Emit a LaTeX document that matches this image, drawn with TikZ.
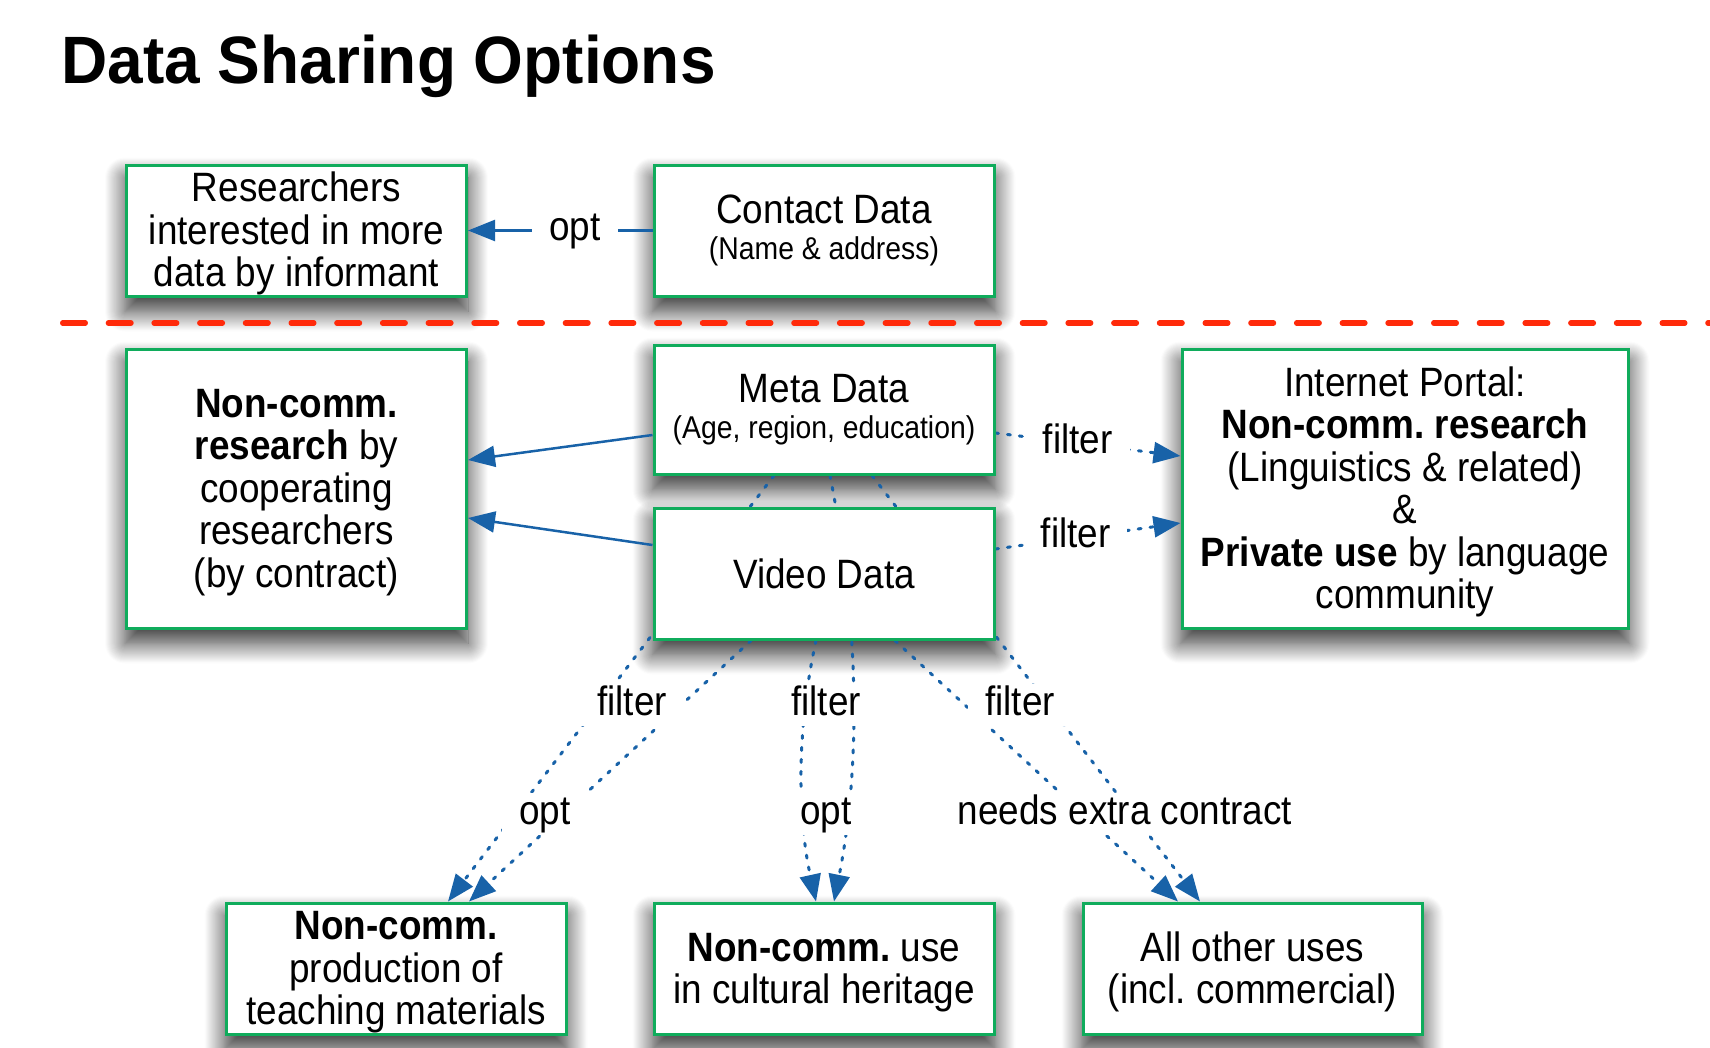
\documentclass[tikz,border=0pt]{standalone}
\usepackage{fontspec}
\setmainfont[FakeStretch=0.9]{Liberation Sans}
\newfontfamily\titlefont[FakeStretch=0.955]{Liberation Sans}
\usetikzlibrary{arrows.meta,shadows.blur}
\definecolor{boxgreen}{RGB}{16,172,92}
\definecolor{edgeblue}{RGB}{24,98,168}
\definecolor{dashred}{RGB}{255,42,10}
\pgfdeclarelayer{shadowlayer}
\pgfdeclarelayer{edgelayer}
\pgfsetlayers{shadowlayer,edgelayer,main}
\newcommand{\smallfnt}{\fontsize{31.5}{36}\selectfont}
\newcommand{\topstrut}{\rule{0pt}{36pt}}
\frenchspacing
\begin{document}
\frenchspacing
\begin{tikzpicture}[x=1pt,y=-1pt,
  box/.style={draw=boxgreen, line width=3pt, fill=white, rectangle, inner sep=0pt,
    minimum width=340pt, minimum height=131pt, align=center,
    font=\fontsize{41}{42.5}\selectfont\frenchspacing},
  tallbox/.style={box, minimum height=279pt},
  boxshadow/.style={blur shadow={shadow xshift=0pt, shadow yshift=-14pt,
    shadow blur radius=20pt, shadow opacity=80, shadow blur steps=20}},
  solidedge/.style={draw=edgeblue, line width=2.5pt, -{Triangle[length=27pt,width=21pt]}},
  dotedge/.style={solidedge, line width=3pt, dash pattern=on 3pt off 9pt, line cap=round},
  lbl/.style={fill=white, inner xsep=17pt, inner ysep=1pt, text height=30pt, text depth=10pt,
    font=\fontsize{41}{42.5}\selectfont}]
\useasboundingbox (0,0) rectangle (1710,1047);

\node[anchor=base west, font=\fontsize{67}{70}\titlefont\bfseries] (title) at (58,83) {Data Sharing Options};

% boxes
\node[box] (res) at (296.5,230.5) {\topstrut Researchers\\interested in more\\data by informant};
\node[box] (contact) at (824,230.5) {Contact Data\\[-6pt]{\smallfnt (Name \& address)}};
\node[tallbox] (ncr) at (296.5,488.5) {\topstrut\textbf{Non-comm.}\\\textbf{research} by\\cooperating\\researchers\\(by contract)};
\node[box, minimum height=129pt] (meta) at (824,409.5) {Meta Data\\[-6pt]{\smallfnt (Age, region, education)}};
\node[box] (video) at (824,573.5) {Video Data};
\node[tallbox, minimum width=446pt] (portal) at (1405,488.5) {\topstrut Internet Portal:\\\textbf{Non-comm. research}\\(Linguistics \& related)\\\&\\\textbf{Private use} by language\\community};
\node[box] (teach) at (396,968.5) {\topstrut\textbf{Non-comm.}\\production of\\teaching materials};
\node[box] (cult) at (824,968.5) {\topstrut\textbf{Non-comm.} use\\in cultural heritage};
\node[box, minimum width=339pt] (other) at (1252.5,968.5) {\topstrut All other uses\\(incl. commercial)};

% shadows
\begin{pgfonlayer}{shadowlayer}
\foreach \n in {res,contact,ncr,meta,video,portal,teach,cult,other}{
  \path[boxshadow] (\n.south west) rectangle (\n.north east);
}
\end{pgfonlayer}

% separator
\coordinate (sepL) at (62.75,323);
\coordinate (sepR) at (1712,323);
\draw[dashred, line width=5.5pt, line cap=round, dash pattern=on 22.5pt off 23.2pt] (sepL) -- (sepR);

% edges
\begin{pgfonlayer}{edgelayer}
\draw[solidedge] (contact.west) -- node[lbl, pos=0.42] (lopt) {opt} (res.east);
\draw[solidedge] ([yshift=-25.5pt]meta.west) -- ([yshift=28.5pt]ncr.east);
\draw[solidedge] ([yshift=28.5pt]video.west) -- ([yshift=-29.5pt]ncr.east);
\draw[dotedge] ([yshift=-23.5pt]meta.east) -- node[lbl, pos=0.444] (lf1) {filter} ([yshift=32.5pt]portal.west);
\draw[dotedge] ([yshift=24.5pt]video.east) -- node[lbl, pos=0.433] (lf2) {filter} ([yshift=-34.5pt]portal.west);
% to teaching
\draw[dotedge] ([xshift=-50pt]meta.south) -- ([xshift=52pt]teach.north);
\draw[dotedge] ([xshift=-73pt]video.south) -- ([xshift=73pt]teach.north);
% to cultural
\draw[dotedge] ([xshift=6pt]meta.south) .. controls (858,617) and (862,760) .. ([xshift=10pt]cult.north);
\draw[dotedge] ([xshift=-8pt]video.south) .. controls (797,727) and (797,815) .. ([xshift=-8pt]cult.north);
% to other
\draw[dotedge] ([xshift=48pt]meta.south) -- ([xshift=-52.5pt]other.north);
\draw[dotedge] ([xshift=71pt]video.south) -- ([xshift=-74.5pt]other.north);
\end{pgfonlayer}

% shared labels
\node[lbl] (lf3) at (632,705) {filter};
\node[lbl] (lo3) at (545,814) {opt};
\node[lbl] (lf4) at (826,705) {filter};
\node[lbl] (lo4) at (826,814) {opt};
\node[lbl] (lf5) at (1020,705) {filter};
\node[lbl] (lx5) at (1125,814) {needs extra contract};
\end{tikzpicture}
\end{document}
